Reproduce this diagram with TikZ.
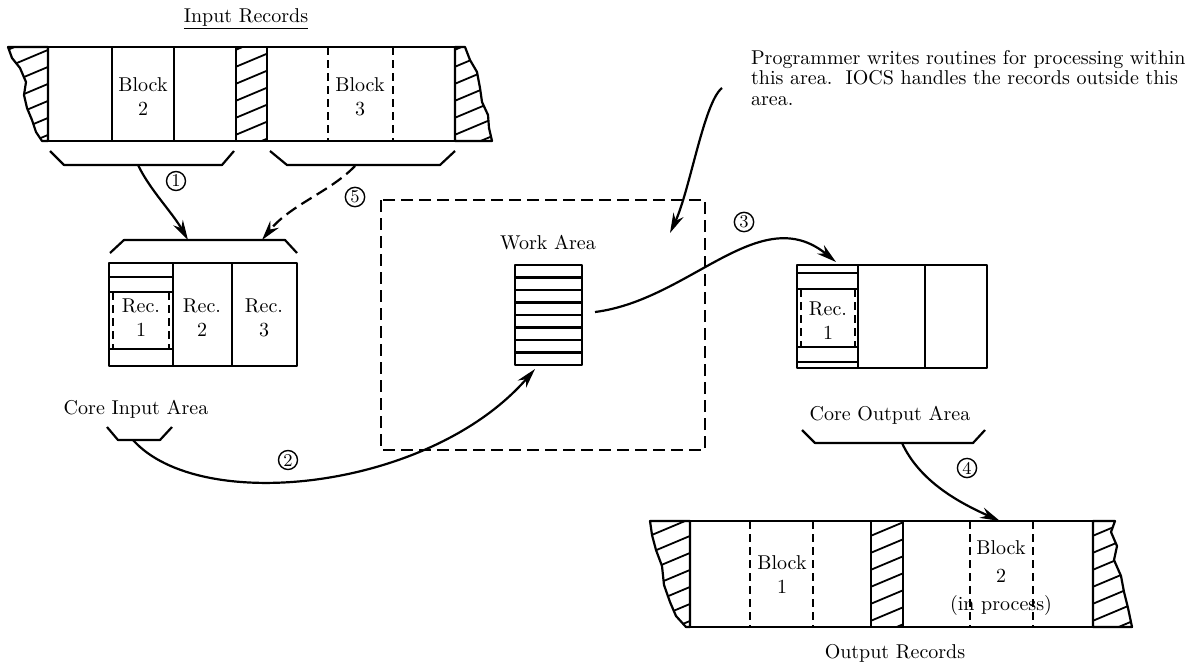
\documentclass[tikz,border=0pt]{standalone}
\usetikzlibrary{arrows.meta, positioning}
\newcommand{\hatchin}[4]{%
  \begin{scope}
    \clip #1;
    \foreach \k in {0,...,8}
      \draw[line width=0.9pt] ({#2-3}, {#4+12-\k*17}) -- ({#3+3}, {#4+12-\k*17-0.42*(#3-#2+6)});
  \end{scope}
  \draw #1;}
\begin{document}
\begin{tikzpicture}[x=0.5pt, y=-0.5pt, line width=1.1pt, line join=round,
    every node/.style={inner sep=1pt, align=center},
    num/.style={draw, circle, line width=0.7pt, inner sep=0.7pt, font=\small},
    flow/.style={-{Stealth[length=10pt, width=5.5pt]}},
    blockline/.style={line width=1pt, dash pattern=on 4pt off 2.5pt},
    areabox/.style={line width=1pt, dash pattern=on 6pt off 3pt}]
\useasboundingbox (0,0) rectangle (1193,664);

\node (inrec) at (246,19) {\underline{Input Records}};
\draw (48,47) -- (455,47) (48,141) -- (455,141);
\hatchin{(48,47) -- (8,47) -- (12,58) -- (20,68) -- (26,82) -- (24,95) -- (27,108) -- (32,120) -- (36,132) -- (42,141) -- (48,141) -- cycle}{8}{48}{141}
\hatchin{(236,47) rectangle (267,141)}{236}{267}{141}
\hatchin{(455,47) -- (465,47) -- (470,60) -- (477,72) -- (480,88) -- (482,102) -- (488,115) -- (489,128) -- (492,141) -- (455,141) -- cycle}{455}{492}{141}
\draw (112,47) -- (112,141) (174,47) -- (174,141);
\draw[blockline] (328,47) -- (328,141) (393,47) -- (393,141);
\node (blk2) at (143,97) {Block\\2};
\node (blk3) at (360,97) {Block\\3};

\draw (50,151) -- (64,165) -- (222,165) -- (234,151);
\draw (270,151) -- (287,165) -- (440,165) -- (455,151);
\coordinate (br1) at (138,165);
\coordinate (br2) at (355,166);

\draw (110,253) -- (124,240) -- (285,240) -- (297,253);
\coordinate (cinL) at (188,240);
\coordinate (cinR) at (262,240);
\draw (109,263) rectangle (297,366);
\draw (173,263) -- (173,366) (232,263) -- (232,366);
\draw (109,277) -- (173,277) (109,292) -- (173,292) (109,349) -- (173,349);
\draw[blockline, line width=0.8pt] (113,292) -- (113,349) (169,292) -- (169,349);
\node (rec1) at (141,318) {Rec.\\1};
\node (rec2) at (202,318) {Rec.\\2};
\node (rec3) at (264,318) {Rec.\\3};
\node (cinlab) at (136,409) {Core Input Area};
\draw (107,427) -- (118,440) -- (160,440) -- (172,427);
\coordinate (cinB) at (133,440);

\draw[areabox] (381,200) rectangle (705,450);
\node (wklab) at (548,243) {Work Area};
\draw (515,265) rectangle (582,365);
\foreach \k in {1,...,7}
  \draw ({515}, {265+\k*12.5}) -- ({582}, {265+\k*12.5});
\coordinate (wkin) at (535,369);
\coordinate (wkout) at (595,312);

\node[anchor=north west, align=left, font=\fontsize{10}{10.3}\selectfont] (note) at (748,47)
  {Programmer writes routines for processing within\\
   this area.\ \ IOCS handles the records outside this\\
   area.};
\coordinate (noteA) at (722,88);
\coordinate (noteB) at (670,233);

\draw (797,265) rectangle (987,368);
\draw (858,265) -- (858,368) (925,265) -- (925,368);
\draw (797,273) -- (858,273) (797,289) -- (858,289) (797,347) -- (858,347) (797,362) -- (858,362);
\draw[blockline, line width=0.8pt] (801,289) -- (801,347) (855,289) -- (855,347);
\node (orec1) at (828,321) {Rec.\\1};
\coordinate (cout) at (836,262);
\node (coutlab) at (890,415) {Core Output Area};
\draw (802,430) -- (815,443) -- (973,443) -- (985,430);
\coordinate (coutB) at (902,443);

\draw (690,521) -- (1093,521) (690,627) -- (1093,627);
\hatchin{(690,521) -- (650,521) -- (652,535) -- (656,550) -- (662,566) -- (664,585) -- (670,602) -- (676,616) -- (686,627) -- (690,627) -- cycle}{650}{690}{627}
\hatchin{(871,521) rectangle (903,627)}{871}{903}{627}
\hatchin{(1093,521) -- (1115,521) -- (1111,532) -- (1117,546) -- (1114,560) -- (1121,576) -- (1124,592) -- (1128,608) -- (1132,627) -- (1093,627) -- cycle}{1093}{1132}{627}
\draw[blockline] (750,521) -- (750,627) (813,521) -- (813,627);
\draw[blockline] (970,521) -- (970,627) (1033,521) -- (1033,627);
\node (oblk1) at (782,575) {Block\\1};
\node (oblk2) at (1001,578) {Block\\[2pt]2\\[2pt](in process)};
\node (outrec) at (895,653) {Output Records};
\coordinate (orec) at (1000,521);

\draw[flow] (br1) .. controls (150,190) and (172,212) .. (cinL);
\draw[flow, dash pattern=on 6pt off 3pt] (br2) .. controls (330,192) and (290,205) .. (cinR);
\draw[flow] (cinB) .. controls (200,515) and (430,490) .. (wkin);
\draw[flow] (wkout) .. controls (690,300) and (760,200) .. (cout);
\draw[flow] (coutB) .. controls (920,482) and (960,503) .. (orec);
\draw[flow] (noteA) .. controls (704,102) and (690,190) .. (noteB);

\node[num] (n1) at (176,181) {1};
\node[num] (n2) at (288,460) {2};
\node[num] (n3) at (744,222) {3};
\node[num] (n4) at (967,468) {4};
\node[num] (n5) at (355,197) {5};
\end{tikzpicture}
\end{document}
